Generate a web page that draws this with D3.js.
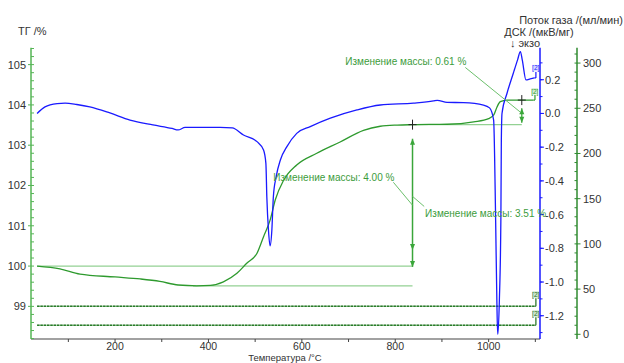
<!DOCTYPE html>
<html>
<head>
<meta charset="utf-8">
<script src="https://cdn.jsdelivr.net/npm/d3@7"></script>
<style>
  html, body { margin: 0; padding: 0; background: #fff; }
  svg { display: block; font-family: "Liberation Sans", Arial, sans-serif; }
</style>
</head>
<body>
<svg id="chart" width="624" height="363"></svg>
<script>
// Thermogravimetry (TG), DSC and purge gas flow versus temperature
const tgTemp  = [33, 82, 125, 200, 254, 296, 335, 375, 404, 432, 461, 482, 504, 518, 532, 543, 561, 589, 632, 682, 732, 768, 804, 839, 911, 968, 1000, 1011, 1018, 1025, 1039, 1096];
const tgValue = [100.00, 99.93, 99.80, 99.73, 99.68, 99.62, 99.53, 99.51, 99.52, 99.61, 99.82, 100.07, 100.32, 100.73, 101.14, 101.64, 102.13, 102.51, 102.80, 103.08, 103.37, 103.47, 103.50, 103.51, 103.52, 103.58, 103.66, 103.75, 103.95, 104.08, 104.12, 104.12];

const dscTemp  = [33, 50, 76, 93, 118, 146, 189, 232, 281, 322, 335, 350, 382, 425, 451, 475, 504, 518, 523, 525, 528.5, 532, 535.8, 539, 545, 554, 568, 589, 618, 661, 718, 768, 839, 882, 890, 911, 946, 989, 1002, 1010.7, 1015, 1017.6, 1019.3, 1019.8, 1023, 1026.2, 1027.2, 1028.7, 1039.4, 1053, 1062, 1068, 1072, 1080, 1089, 1098];
const dscValue = [0.000, 0.039, 0.058, 0.061, 0.053, 0.039, 0.003, -0.039, -0.068, -0.089, -0.098, -0.083, -0.083, -0.083, -0.086, -0.128, -0.167, -0.217, -0.296, -0.494, -0.691, -0.786, -0.691, -0.494, -0.375, -0.276, -0.197, -0.118, -0.078, -0.028, 0.021, 0.050, 0.061, 0.074, 0.078, 0.066, 0.064, 0.050, 0.033, -0.039, -0.632, -1.107, -1.309, -1.309, -1.107, -0.632, -0.157, 0.001, 0.120, 0.240, 0.318, 0.367, 0.318, 0.199, 0.205, 0.211];

// Purge and protective gas flows, ml/min
const gasTemp = [33, 1098];
const gasPurge = [31, 31];
const gasProtective = [10, 10];

// Mass-change evaluation
const massLevels = { start: 100.00, min: 99.51, plateau: 103.51, end: 104.12 };
const stepTemp = [837, 1071];
const stepLabels = ["Изменение массы: 4.00 %", "Изменение массы: 3.51 %", "Изменение массы: 0.61 %"];

// Axis ticks
const xTicks = [200, 400, 600, 800, 1000];
const tgTicks = [99, 100, 101, 102, 103, 104, 105];
const dscTicks = [-1.2, -1.0, -0.8, -0.6, -0.4, -0.2, 0.0, 0.2];
const gasTicks = [0, 50, 100, 150, 200, 250, 300];

const svg = d3.select("#chart");
const plot = { left: 31, right: 540, top: 47.7, bottom: 339 };
const gasAxisX = 577;

const x = d3.scaleLinear().domain([20, 1110]).range([plot.left, plot.right]);
const yTG = d3.scaleLinear().domain([98.19, 105.42]).range([plot.bottom, plot.top]);
const yDSC = d3.scaleLinear().domain([-1.338, 0.39]).range([plot.bottom, plot.top]);
const yGas = d3.scaleLinear().domain([-5.2, 317]).range([plot.bottom, plot.top]);

const C = {
  blue: "#1a1aff",
  tg: "#2e9a2e",
  light: "#93d193",
  arrow: "#3aa63a",
  gas: "#1f6e1f",
  axisTG: "#55b555",
  axisGas: "#2f8a2f",
  text: "#333",
  note: "#3c9c3c"
};
const fmt = v => d3.format(".1f")(v).replace("−", "-");

// ---------- axes ----------
// bottom temperature axis
const gx = svg.append("g").attr("transform", `translate(0,${plot.bottom})`);
gx.append("line").attr("x1", plot.left).attr("x2", plot.right).attr("stroke", "#444").attr("stroke-width", 1.2);
gx.selectAll("line.t").data(d3.range(100, 1101, 100)).join("line")
  .attr("x1", d => x(d)).attr("x2", d => x(d)).attr("y1", 0).attr("y2", 3)
  .attr("stroke", "#444");
gx.selectAll("text").data(xTicks).join("text")
  .attr("x", d => x(d)).attr("y", 10.9).attr("text-anchor", "middle")
  .attr("font-size", 10.5).attr("fill", C.text).text(d => d);
svg.append("text").attr("x", 285).attr("y", 360.8).attr("text-anchor", "middle")
  .attr("font-size", 9.5).attr("fill", C.text).text("Температура /°C");

// left TG axis
const gl = svg.append("g").attr("transform", `translate(${plot.left},0)`);
gl.append("line").attr("y1", plot.top).attr("y2", plot.bottom).attr("stroke", C.axisTG).attr("stroke-width", 1.5);
gl.selectAll("line.mi").data(d3.range(98.2, 105.41, 0.2)).join("line")
  .attr("y1", d => yTG(d)).attr("y2", d => yTG(d)).attr("x1", 0).attr("x2", 3)
  .attr("stroke", C.axisTG);
gl.selectAll("line.ma").data(tgTicks).join("line")
  .attr("y1", d => yTG(d)).attr("y2", d => yTG(d)).attr("x1", -3).attr("x2", 0)
  .attr("stroke", C.axisTG);
gl.selectAll("text").data(tgTicks).join("text")
  .attr("x", -5).attr("y", d => yTG(d) + 4).attr("text-anchor", "end")
  .attr("font-size", 11).attr("fill", C.text).text(d => d);
svg.append("text").attr("x", 18).attr("y", 35).attr("font-size", 11).attr("fill", C.text).text("ТГ /%");

// DSC axis
const gd = svg.append("g").attr("transform", `translate(${plot.right},0)`);
gd.append("line").attr("y1", plot.top).attr("y2", plot.bottom).attr("stroke", C.blue).attr("stroke-width", 1.5);
gd.selectAll("line.mi").data(d3.range(-1.3, 0.31, 0.1)).join("line")
  .attr("y1", d => yDSC(d)).attr("y2", d => yDSC(d)).attr("x1", 0).attr("x2", 2.5)
  .attr("stroke", C.blue);
gd.selectAll("line.ma").data(dscTicks).join("line")
  .attr("y1", d => yDSC(d)).attr("y2", d => yDSC(d)).attr("x1", 0).attr("x2", 4)
  .attr("stroke", C.blue);
gd.selectAll("text").data(dscTicks).join("text")
  .attr("x", 5).attr("y", d => yDSC(d) + 4).attr("font-size", 11).attr("fill", C.text)
  .text(d => fmt(d));

// gas flow axis
const gg = svg.append("g").attr("transform", `translate(${gasAxisX},0)`);
gg.append("line").attr("y1", plot.top).attr("y2", plot.bottom).attr("stroke", C.axisGas).attr("stroke-width", 1.5);
gg.selectAll("line.mi").data(d3.range(0, 311, 10)).join("line")
  .attr("y1", d => yGas(d)).attr("y2", d => yGas(d)).attr("x1", -2.5).attr("x2", 0)
  .attr("stroke", C.axisGas);
gg.selectAll("line.ma").data(gasTicks).join("line")
  .attr("y1", d => yGas(d)).attr("y2", d => yGas(d)).attr("x1", 0).attr("x2", 3.5)
  .attr("stroke", C.axisGas);
gg.selectAll("text").data(gasTicks).join("text")
  .attr("x", 6).attr("y", d => yGas(d) + 4).attr("font-size", 11).attr("fill", C.text).text(d => d);

svg.append("text").attr("x", 623).attr("y", 24).attr("text-anchor", "end")
  .attr("font-size", 11).attr("fill", C.text).text("Поток газа /(мл/мин)");
svg.append("text").attr("x", 539).attr("y", 36).attr("text-anchor", "middle")
  .attr("font-size", 11).attr("fill", C.text).text("ДСК /(мкВ/мг)");
svg.append("text").attr("x", 525).attr("y", 46.5).attr("text-anchor", "middle")
  .attr("font-size", 11).attr("fill", C.text).text("↓ экзо");

// ---------- evaluation lines (behind curves) ----------
const ev = svg.append("g");
ev.append("line").attr("x1", x(tgTemp[0])).attr("x2", x(stepTemp[0]))
  .attr("y1", yTG(massLevels.start)).attr("y2", yTG(massLevels.start))
  .attr("stroke", C.light).attr("stroke-width", 1.2);
ev.append("line").attr("x1", x(367)).attr("x2", x(stepTemp[0]))
  .attr("y1", yTG(massLevels.min)).attr("y2", yTG(massLevels.min))
  .attr("stroke", C.light).attr("stroke-width", 1.2);
ev.append("line").attr("x1", x(stepTemp[0])).attr("x2", x(stepTemp[1]))
  .attr("y1", yTG(massLevels.plateau)).attr("y2", yTG(massLevels.plateau))
  .attr("stroke", C.light).attr("stroke-width", 1.2);

// ---------- gas flow traces ----------
const gasLine = vals => d3.line().x((d, i) => x(gasTemp[i])).y(d => yGas(d))(vals);
[gasPurge, gasProtective].forEach(vals => {
  svg.append("path").attr("d", gasLine(vals)).attr("fill", "none")
    .attr("stroke", C.gas).attr("stroke-width", 1.6).attr("stroke-dasharray", "2.5,0.8");
  svg.append("path").attr("d", gasLine(vals)).attr("fill", "none")
    .attr("stroke", "#3f9a3f").attr("stroke-width", 0.6).attr("opacity", 0.7);
});

// ---------- TG and DSC curves ----------
const tgPath = d3.line().curve(d3.curveMonotoneX).x((d, i) => x(tgTemp[i])).y(d => yTG(d));
svg.append("path").attr("d", tgPath(tgValue)).attr("fill", "none")
  .attr("stroke", C.tg).attr("stroke-width", 1.3);

const dscPath = d3.line().curve(d3.curveMonotoneX).x((d, i) => x(dscTemp[i])).y(d => yDSC(d));
svg.append("path").attr("d", dscPath(dscValue)).attr("fill", "none")
  .attr("stroke", C.blue).attr("stroke-width", 1.3);

// segment end markers "[2]"
function endMarker(px, py, rise, color, fill) {
  svg.append("line").attr("x1", px).attr("x2", px + 1.5).attr("y1", py).attr("y2", py)
    .attr("stroke", color).attr("stroke-width", 1.2);
  svg.append("line").attr("x1", px + 1.5).attr("x2", px + 1.5).attr("y1", py).attr("y2", py - rise)
    .attr("stroke", color).attr("stroke-width", 1.2);
  svg.append("rect").attr("x", px - 2).attr("y", py - rise - 7).attr("width", 6.5).attr("height", 6.5)
    .attr("fill", fill).attr("stroke", "none");
  svg.append("text").attr("x", px + 1.3).attr("y", py - rise - 1.5).attr("text-anchor", "middle")
    .attr("font-size", 6.5).attr("fill", color).text("[2]");
}
endMarker(x(dscTemp[dscTemp.length - 1]), yDSC(dscValue[dscValue.length - 1]), 6, C.blue, "#dcdcff");
endMarker(x(tgTemp[tgTemp.length - 1]), yTG(tgValue[tgValue.length - 1]), 5, C.tg, "#d6efd6");
endMarker(x(gasTemp[1]), yGas(gasPurge[1]), 8, C.gas, "#cfe8cf");
endMarker(x(gasTemp[1]), yGas(gasProtective[1]), 8, C.gas, "#cfe8cf");

// ---------- mass-change arrows ----------
function arrowHead(px, py, dir) {
  const h = 6 * dir, w = 2.5;
  svg.append("path").attr("d", `M${px},${py} L${px - w},${py - h} L${px + w},${py - h} Z`)
    .attr("fill", C.arrow);
}
const ax0 = x(stepTemp[0]);
svg.append("line").attr("x1", ax0).attr("x2", ax0)
  .attr("y1", yTG(103.16)).attr("y2", yTG(99.98)).attr("stroke", C.arrow).attr("stroke-width", 1.5);
arrowHead(ax0, yTG(103.16), -1);
arrowHead(ax0, yTG(100.40), 1);
arrowHead(ax0, yTG(99.98), 1);

const ax1 = x(stepTemp[1]);
svg.append("line").attr("x1", ax1).attr("x2", ax1)
  .attr("y1", yTG(103.92)).attr("y2", yTG(103.56)).attr("stroke", C.arrow).attr("stroke-width", 1.3);
arrowHead(ax1, yTG(103.92), -1);
arrowHead(ax1, yTG(103.56), 1);

// evaluation crosses
function cross(px, py) {
  svg.append("path").attr("d", `M${px - 4},${py} H${px + 4} M${px},${py - 5} V${py + 5}`)
    .attr("stroke", "#222").attr("stroke-width", 1);
}
cross(ax0, yTG(massLevels.plateau));
cross(ax1, yTG(massLevels.end));

// leaders and labels
const leader = (t1, v1, t2, v2) => svg.append("line")
  .attr("x1", x(t1)).attr("y1", yTG(v1)).attr("x2", x(t2)).attr("y2", yTG(v2))
  .attr("stroke", "#6cc06c").attr("stroke-width", 1);
leader(950, 104.93, 1068, 103.82);
leader(796, 102.08, 837, 101.51);
leader(837, 101.73, 862, 101.48);

const note = (t, v, s) => svg.append("text").attr("x", x(t)).attr("y", yTG(v))
  .attr("font-size", 10).attr("fill", C.note).text(s);
note(539, 102.12, stepLabels[0]);
note(864, 101.23, stepLabels[1]);
note(693, 105.00, stepLabels[2]);
</script>
</body>
</html>
